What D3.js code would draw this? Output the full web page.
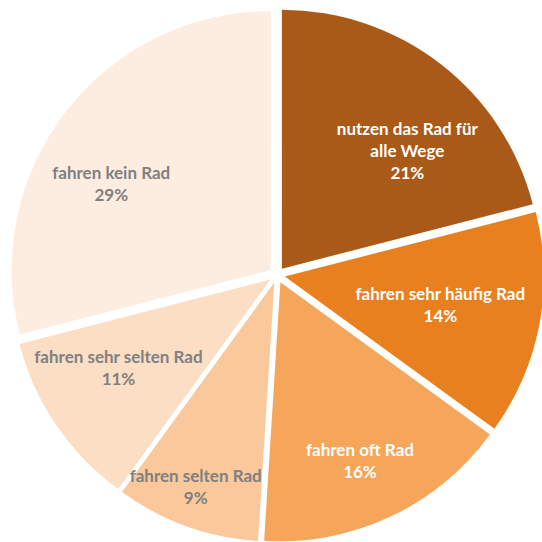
<!DOCTYPE html>
<html>
<head>
<meta charset="utf-8">
<script src="https://cdn.jsdelivr.net/npm/d3@7"></script>
<style>
  html, body { margin: 0; padding: 0; background: #fff; }
  svg { display: block; }
</style>
</head>
<body>
<div id="chart"></div>
<script>
const labels = [
  ["nutzen das Rad für", "alle Wege"],
  ["fahren sehr häufig Rad"],
  ["fahren oft Rad"],
  ["fahren selten Rad"],
  ["fahren sehr selten Rad"],
  ["fahren kein Rad"]
];
const values = [21, 14, 16, 9, 11, 29];

const fills = ["#a95a18", "#e9801f", "#f6a65b", "#fac89b", "#fcdec5", "#fdede1"];
const textColors = ["#ffffff", "#ffffff", "#ffffff", "#808080", "#808080", "#808080"];

// label placement: [angle from 12 o'clock in degrees, distance from centre]
const labelAt = [[46.4, 180], [100.4, 166], [156, 204], [201, 227], [239.5, 184], [298.7, 189]];

const width = 542, height = 542;
const cx = 277, cy = 275, r = 259, explode = 8;

const svg = d3.select("#chart").append("svg")
    .attr("width", width)
    .attr("height", height);

const pie = d3.pie().sort(null).value(d => d);
const arcs = pie(values);

const arc = d3.arc().innerRadius(0).outerRadius(r);

const g = svg.append("g").attr("transform", `translate(${cx},${cy})`);

g.selectAll("path")
    .data(arcs).enter().append("path")
    .attr("d", arc)
    .attr("fill", (d, i) => fills[i])
    .attr("transform", d => {
        const a = (d.startAngle + d.endAngle) / 2;
        return `translate(${explode * Math.sin(a)},${-explode * Math.cos(a)})`;
    });

const lineH = 22;
const txt = g.selectAll("text.lbl")
    .data(arcs).enter().append("text")
    .attr("class", "lbl")
    .attr("text-anchor", "middle")
    .style("font-family", "Lato, 'Open Sans', sans-serif")
    .style("font-weight", "bold")
    .style("font-size", "17px")
    .attr("fill", (d, i) => textColors[i]);

txt.each(function (d, i) {
    const a = labelAt[i][0] * Math.PI / 180;
    const x = labelAt[i][1] * Math.sin(a);
    const y = -labelAt[i][1] * Math.cos(a);
    const lines = labels[i].concat([d.data + "%"]);
    const top = y - (lines.length - 1) * lineH / 2;
    d3.select(this).selectAll("tspan")
        .data(lines).enter().append("tspan")
        .attr("x", x)
        .attr("y", (l, j) => top + j * lineH)
        .attr("dy", "0.35em")
        .text(l => l);
});
</script>
</body>
</html>
